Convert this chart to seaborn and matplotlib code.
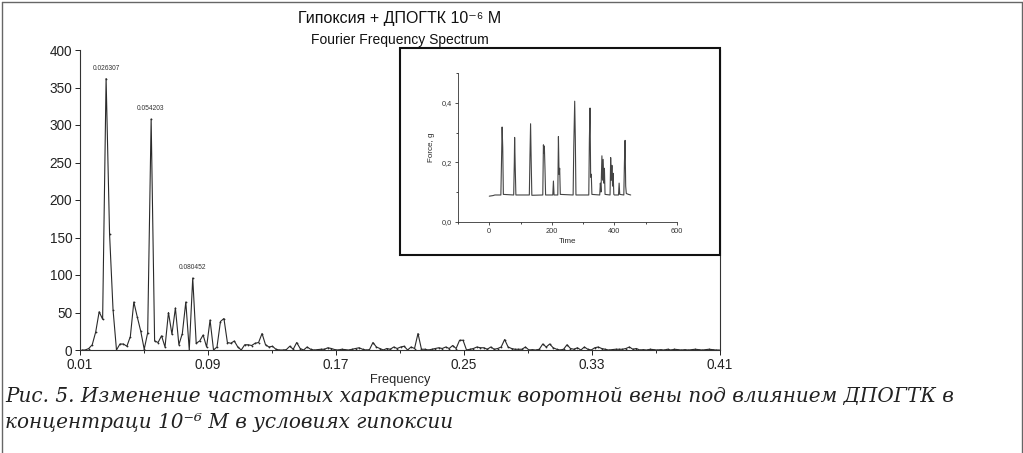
import numpy as np
import pandas as pd
import matplotlib
matplotlib.use("Agg")
import matplotlib.pyplot as plt
import seaborn as sns
from matplotlib.patches import Rectangle
from matplotlib.lines import Line2D

# ---------------- data ----------------
# Fourier spectrum: evenly spaced frequency bins, amplitudes
FREQ_FIRST = 0.011145
FREQ_STEP = 0.002166
amplitude = [
    0, 0, 2, 7, 24, 51, 41, 362, 155, 54,
    0, 8, 8, 5, 18, 64, 44, 25, 1, 23,
    308, 12, 10, 19, 4, 50, 21, 56, 7, 22,
    64, 0, 96, 9, 12, 20, 4, 40, 0, 4,
    38, 42, 10, 9, 12, 4, 0, 7, 7, 6,
    9, 10, 22, 7, 4, 5, 1, 0, 0, 0.5,
    5, 1, 10, 2, 0, 4, 1, 0, 0.5, 1,
    1, 3, 2, 0.5, 0, 1, 0.5, 0, 1, 2,
    3, 1, 0, 0.5, 10, 4, 2, 0, 2, 1,
    4, 2, 4, 5, 0, 4, 2, 22, 1, 1,
    0, 1, 2, 3, 2, 4, 2, 6, 2, 13,
    13, 0, 1, 2, 4, 3, 3, 1, 4, 1,
    2, 4, 14, 4, 2, 1, 1, 1, 4, 0,
    0.5, 0, 1, 8, 4, 8, 3, 1, 0, 1,
    7, 2, 1, 3, 0, 4, 1, 0, 3, 4,
    2, 1, 0, 0.5, 1, 1, 1, 2, 4, 1,
    2, 0, 0.5, 0, 1, 0.5, 0, 0.5, 0, 1,
    0, 1, 0.5, 0, 0.5, 0, 0.5, 1, 0.5, 0,
    0.5, 1, 0.5, 0, 0,
]
peak_labels = ["0.026307", "0.054203", "0.080452"]
peak_freqs = [0.026307, 0.054203, 0.080452]
peak_amps = [362, 308, 96]
x_ticks = [0.01, 0.09, 0.17, 0.25, 0.33, 0.41]
x_minor = [0.05, 0.13, 0.21, 0.29, 0.37]
y_ticks = [0, 50, 100, 150, 200, 250, 300, 350, 400]

# inset: contraction force record
inset_time = [0, 12, 18, 37, 39, 41, 43, 45, 78, 80, 81, 83, 85, 128, 130, 132,
              134, 136, 171, 173, 175, 176, 178, 180, 203, 205, 207, 219, 221, 223,
              225, 227, 268, 270, 273, 275, 277, 318, 320, 322, 324, 326, 328, 353,
              355, 357, 360, 362, 364, 366, 368, 370, 386, 388, 390, 392, 394, 396,
              398, 400, 413, 415, 417, 430, 432, 434, 436, 438, 445, 452]
inset_force = [0.086, 0.088, 0.090, 0.090, 0.20, 0.319, 0.25, 0.092, 0.090, 0.20,
               0.284, 0.18, 0.090, 0.090, 0.22, 0.33, 0.20, 0.089, 0.090, 0.259,
               0.23, 0.255, 0.18, 0.090, 0.090, 0.137, 0.090, 0.090, 0.287, 0.16,
               0.18, 0.092, 0.090, 0.25, 0.406, 0.28, 0.090, 0.090, 0.28, 0.383,
               0.15, 0.16, 0.092, 0.090, 0.13, 0.10, 0.222, 0.14, 0.21, 0.13,
               0.18, 0.092, 0.090, 0.216, 0.14, 0.19, 0.12, 0.163, 0.092, 0.090,
               0.090, 0.13, 0.092, 0.090, 0.20, 0.274, 0.12, 0.095, 0.092, 0.090]
inset_xticks = [0, 200, 400, 600]
inset_xminor = [-100, 100, 300, 500]
inset_yticks = [0.0, 0.2, 0.4]
inset_yminor = [0.1, 0.3, 0.5]

title_main = "Гипоксия + ДПОГТК 10⁻⁶ М"
title_sub = "Fourier Frequency Spectrum"
caption_1 = "Рис. 5. Изменение частотных характеристик воротной вены под влиянием ДПОГТК в"
caption_2 = "концентраци 10⁻⁶ М в условиях гипоксии"

# ---------------- figure ----------------
sns.set_theme(style="ticks")
plt.rcParams["font.family"] = ["Liberation Sans", "DejaVu Sans"]

W, H = 1023, 453
fig = plt.figure(figsize=(W / 100, H / 100), dpi=100)
fig.patch.set_facecolor("white")

def fx(px):
    return px / W

def fy(py):
    return 1 - py / H

# main spectrum axes
ax = fig.add_axes([fx(80), fy(350), fx(720) - fx(80), fy(50) - fy(350)])
freq = FREQ_FIRST + FREQ_STEP * np.arange(len(amplitude))
spec = pd.DataFrame({"Frequency": freq, "Amplitude": amplitude})
sns.lineplot(data=spec, x="Frequency", y="Amplitude", ax=ax, color="#2a2a2a",
             linewidth=0.8, marker="o", markersize=1.3, markeredgewidth=0,
             estimator=None, sort=False)
ax.set_xlim(0.01, 0.41)
ax.set_ylim(0, 400)
ax.set_xticks(x_ticks)
ax.set_xticklabels([f"{t:.2f}" for t in x_ticks])
ax.set_xticks(x_minor, minor=True)
ax.set_yticks(y_ticks)
ax.set_yticklabels([str(t) for t in y_ticks])
ax.tick_params(axis="both", which="major", direction="out", length=3.5, width=0.7,
               labelsize=9.8, pad=2, colors="#222222")
ax.tick_params(axis="x", which="minor", direction="out", length=2.5, width=0.7)
ax.set_xlabel("Frequency", fontsize=9.2, labelpad=2)
ax.set_ylabel("")
for side in ["left", "bottom", "right"]:
    ax.spines[side].set_color("#333333")
    ax.spines[side].set_linewidth(0.8)
ax.spines["top"].set_visible(False)
ax.set_facecolor("white")

for lab, f, a in zip(peak_labels, peak_freqs, peak_amps):
    ax.annotate(lab, xy=(f, a), xytext=(0, 5), textcoords="offset points",
                ha="center", va="bottom", fontsize=4.8, color="#333333")

# inset frame
frame = Rectangle((fx(400), fy(255)), fx(720) - fx(400), fy(48) - fy(255),
                  transform=fig.transFigure, facecolor="white", edgecolor="#111111",
                  linewidth=1.5, zorder=5)
fig.patches.append(frame)

# inset axes
ax2 = fig.add_axes([fx(458), fy(221.7), fx(677) - fx(458), fy(73.3) - fy(221.7)],
                   zorder=6)
rec = pd.DataFrame({"Time": inset_time, "Force": inset_force})
sns.lineplot(data=rec, x="Time", y="Force", ax=ax2, color="#444444", linewidth=0.8,
             estimator=None, sort=False)
ax2.set_xlim(-100, 600)
ax2.set_ylim(0, 0.5)
ax2.set_xticks(inset_xticks)
ax2.set_xticks(inset_xminor, minor=True)
ax2.set_yticks(inset_yticks)
ax2.set_yticklabels([f"{t:.1f}".replace(".", ",") for t in inset_yticks])
ax2.set_yticks(inset_yminor, minor=True)
ax2.tick_params(axis="both", which="major", direction="out", length=2.5, width=0.6,
                labelsize=5.3, pad=2, colors="#333333")
ax2.tick_params(axis="both", which="minor", direction="out", length=1.5, width=0.6)
ax2.set_xlabel("Time", fontsize=5.8, labelpad=2)
ax2.set_ylabel("Force, g", fontsize=5.8, labelpad=5)
ax2.spines["top"].set_visible(False)
ax2.spines["right"].set_visible(False)
for side in ["left", "bottom"]:
    ax2.spines[side].set_linewidth(0.6)
    ax2.spines[side].set_color("#333333")
ax2.patch.set_alpha(0)

# titles
fig.text(fx(400), fy(18), title_main, ha="center", va="center", fontsize=11.5,
         color="#111111")
fig.text(fx(400), fy(40), title_sub, ha="center", va="center", fontsize=10,
         color="#111111")

# caption
cap_font = dict(family=["DejaVu Serif"], style="italic", fontsize=14.4, color="#222222")
fig.text(fx(5), fy(397), caption_1, ha="left", va="center", **cap_font)
fig.text(fx(5), fy(423), caption_2, ha="left", va="center", **cap_font)

# outer border (left, top, right)
for xs, ys in [((fx(1.5), fx(1.5)), (0, fy(1.5))),
               ((fx(1.5), fx(1021.5)), (fy(1.5), fy(1.5))),
               ((fx(1021.5), fx(1021.5)), (0, fy(1.5)))]:
    fig.lines.append(Line2D(xs, ys, transform=fig.transFigure, color="#666666",
                            linewidth=1.0))

fig.savefig("out.png", dpi=100)
